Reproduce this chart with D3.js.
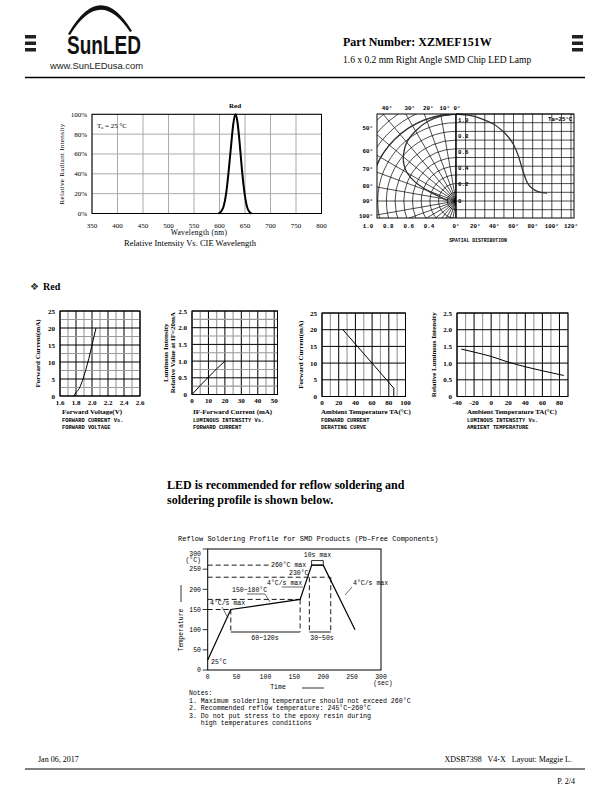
<!DOCTYPE html>
<html><head><meta charset="utf-8">
<script src="https://cdn.jsdelivr.net/npm/d3@7"></script>
<style>body{margin:0;background:#fff}svg{display:block}</style>
</head><body><svg id="c" width="612" height="792"></svg>
<script>
// ---------------- DATA ----------------
const specWavelength = [598, 603, 608, 613, 618, 623, 627, 631, 635, 639, 643, 647, 651, 655, 659, 663];
const specIntensity  = [0, 2, 7, 20, 43, 70, 90, 100, 93, 74, 50, 29, 14, 5, 1.5, 0];
const specXTicks = [350, 400, 450, 500, 550, 600, 650, 700, 750, 800];
const specYTicks = [0, 20, 40, 60, 80, 100];

const spatialAngle     = [0, 10, 20, 30, 40, 50, 55, 60, 65, 70, 75, 80, 85, 90, 95];
const spatialIntensity = [1.0, 0.99, 0.97, 0.93, 0.88, 0.79, 0.73, 0.65, 0.52, 0.34, 0.20, 0.14, 0.11, 0.095, 0.09];
const polarTopLabels  = [40, 30, 20, 10, 0];
const polarLeftLabels = [50, 60, 70, 80, 90, 100];
const polarRadLabels  = [1.0, 0.8, 0.6, 0.4];
const spatialYTicks   = [1.0, 0.8, 0.6, 0.4, 0.2, 0];
const spatialXTicks   = [0, 20, 40, 60, 80, 100, 120];

const vfVoltage = [1.77, 1.80, 1.84, 1.88, 1.92, 1.96, 2.00, 2.05];
const vfCurrent = [0, 1, 2.2, 4.5, 7.5, 11, 15, 20];
const vfXTicks = [1.6, 1.8, 2.0, 2.2, 2.4, 2.6];
const vfYTicks = [0, 5, 10, 15, 20, 25];

const ivCurrent   = [0, 5, 10, 15, 20];
const ivIntensity = [0, 0.27, 0.52, 0.77, 1.0];
const ivXTicks = [0, 10, 20, 30, 40, 50];
const ivYTicks = [0, 0.5, 1.0, 1.5, 2.0, 2.5];

const deratingTemp    = [25, 86, 86];
const deratingCurrent = [20, 2.5, 0];
const deratingXTicks = [0, 20, 40, 60, 80, 100];
const deratingYTicks = [0, 5, 10, 15, 20, 25];

const ltTemp      = [-35, -20, 0, 20, 40, 60, 85];
const ltIntensity = [1.42, 1.33, 1.20, 1.03, 0.89, 0.77, 0.63];
const ltXTicks = [-40, -20, 0, 20, 40, 60, 80];
const ltYTicks = [0, 0.5, 1.0, 1.5, 2.0, 2.5];

const reflowTime = [0, 40, 160, 180, 200, 255];
const reflowTemp = [25, 150, 175, 260, 260, 100];
const reflowXTicks = [0, 50, 100, 150, 200, 250, 300];
const reflowYTicks = [0, 50, 100, 150, 200, 250, 300];

const notes = [
  "1. Maximum soldering temperature should not exceed 260\u00b0C",
  "2. Recommended reflow temperature: 245\u00b0C~260\u00b0C",
  "3. Do not put stress to the epoxy resin during",
  "   high temperatures conditions"
];

// ---------------- HELPERS ----------------
const svg = d3.select('#c');
svg.append('rect').attr('width', 612).attr('height', 792).attr('fill', '#fff');
const defs = svg.append('defs');
const SERIF = 'Liberation Serif', MONO = 'Liberation Mono', SANS = 'Liberation Sans';

function txt(g, x, y, s, o = {}) {
  const t = g.append('text').attr('x', x).attr('y', y).text(s)
    .attr('font-family', o.ff || SERIF).attr('font-size', o.fs || 7)
    .attr('font-weight', o.fw || 'normal').attr('text-anchor', o.anchor || 'start')
    .attr('fill', o.fill || '#000');
  if (o.rotate) t.attr('transform', `rotate(-90,${x},${y})`);
  if (o.ls) t.attr('letter-spacing', o.ls);
  if (o.tl) t.attr('textLength', o.tl).attr('lengthAdjust', 'spacingAndGlyphs');
  return t;
}
function hline(g, x1, x2, y, o = {}) {
  return g.append('line').attr('x1', x1).attr('x2', x2).attr('y1', y).attr('y2', y)
    .attr('stroke', o.c || '#000').attr('stroke-width', o.w || 1).attr('stroke-dasharray', o.dash || null);
}
function vline(g, x, y1, y2, o = {}) {
  return g.append('line').attr('x1', x).attr('x2', x).attr('y1', y1).attr('y2', y2)
    .attr('stroke', o.c || '#000').attr('stroke-width', o.w || 1).attr('stroke-dasharray', o.dash || null);
}

// ---------------- HEADER ----------------
const hdr = svg.append('g');
[25, 572].forEach(bx => [0, 1, 2].forEach(i =>
  hdr.append('rect').attr('x', bx).attr('y', 35 + i * 6.5).attr('width', 11).attr('height', 3.5).attr('fill', '#222')));
hdr.append('path').attr('d', 'M68,34 Q100,-22 132,31 L130,32 Q100,-14 70,35 Z').attr('fill', '#111');
txt(hdr, 67, 54, 'SunLED', { ff: SANS, fs: 25, fw: 'bold', tl: 74, fill: '#111' });
txt(hdr, 50, 68.5, 'www.SunLEDusa.com', { ff: SANS, fs: 9.5, tl: 93, fill: '#222' });
txt(hdr, 343, 46, 'Part Number: XZMEF151W', { fs: 12, fw: 'bold' });
txt(hdr, 343, 63, '1.6 x 0.2 mm Right Angle SMD Chip LED Lamp', { fs: 9.5 });
hline(hdr, 25, 585, 77.5, { w: 1.5 });

// ---------------- SPECTRUM CHART ----------------
{
  const g = svg.append('g');
  const x = d3.scaleLinear([350, 800], [92, 321.5]);
  const y = d3.scaleLinear([0, 100], [213.5, 114.3]);
  specXTicks.forEach(v => vline(g, x(v), y(0), y(100), { c: '#aaa', w: 1 }));
  specYTicks.forEach(v => hline(g, x(350), x(800), y(v), { c: '#aaa', w: 1 }));
  g.append('rect').attr('x', x(350)).attr('y', y(100)).attr('width', x(800) - x(350)).attr('height', y(0) - y(100))
    .attr('fill', 'none').attr('stroke', '#000').attr('stroke-width', 1);
  const pts = specWavelength.map((w, i) => [w, specIntensity[i]]);
  g.append('path').datum(pts).attr('fill', 'none').attr('stroke', '#000').attr('stroke-width', 2)
    .attr('d', d3.line().x(d => x(d[0])).y(d => y(d[1])).curve(d3.curveMonotoneX));
  specXTicks.forEach(v => txt(g, x(v), 227.5, String(v), { anchor: 'middle', fs: 7 }));
  specYTicks.forEach(v => txt(g, 87, y(v) + 2.5, v + '%', { anchor: 'end', fs: 7 }));
  txt(g, 235, 108, 'Red', { anchor: 'middle', fs: 7, fw: 'bold' });
  const ta = txt(g, 97, 127.5, '', { fs: 7 });
  ta.append('tspan').text('T');
  ta.append('tspan').attr('font-size', 4.5).attr('dy', 1.5).text('a');
  ta.append('tspan').attr('dy', -1.5).text(' = 25 \u00b0C');
  txt(g, 63.5, 164, 'Relative Radiant Intensity', { anchor: 'middle', fs: 7, rotate: true, ls: 0.3 });
  txt(g, 199, 235, 'Wavelength (nm)', { anchor: 'middle', fs: 7.5, ls: 0.3 });
  txt(g, 190, 245.5, 'Relative Intensity Vs. CIE Wavelength', { anchor: 'middle', fs: 8.5 });
}

// ---------------- SPATIAL DISTRIBUTION ----------------
{
  const g = svg.append('g');
  const cx = 456, cy = 201, R = 87, L = 377, T = 114, Rr = 574, B = 218;
  const rs = d3.scaleLinear([0, 1], [0, R]);
  defs.append('clipPath').attr('id', 'pclip').append('rect').attr('x', L).attr('y', T).attr('width', cx - L).attr('height', B - T);
  const pg = g.append('g').attr('clip-path', 'url(#pclip)');
  const rad = a => a * Math.PI / 180;
  d3.range(0.1, 1.5, 0.1).forEach(r => pg.append('circle').attr('cx', cx).attr('cy', cy).attr('r', rs(r))
    .attr('fill', 'none').attr('stroke', '#000').attr('stroke-width', 0.7));
  d3.range(0, 181, 10).forEach(a => pg.append('line').attr('x1', cx).attr('y1', cy)
    .attr('x2', cx - rs(1.6) * Math.sin(rad(a))).attr('y2', cy - rs(1.6) * Math.cos(rad(a)))
    .attr('stroke', '#000').attr('stroke-width', 0.7));
  pg.append('circle').attr('cx', cx).attr('cy', cy).attr('r', rs(1)).attr('fill', 'none').attr('stroke', '#333').attr('stroke-width', 1.3);
  const polarPts = spatialAngle.map((a, i) => [a, spatialIntensity[i]]);
  pg.append('path').datum(polarPts).attr('transform', `translate(${cx},${cy})`)
    .attr('fill', 'none').attr('stroke', '#333').attr('stroke-width', 1.3)
    .attr('d', d3.lineRadial().angle(d => -rad(d[0])).radius(d => rs(d[1])).curve(d3.curveCatmullRom));
  // cartesian half
  const xs = d3.scaleLinear([0, 120], [cx, 571]);
  const ys = d3.scaleLinear([0, 1], [cy, T]);
  d3.range(0, 121, 10).forEach(a => vline(g, xs(a), T, B, { w: 0.7 }));
  d3.range(-0.2, 1.01, 0.1).forEach(v => { if (ys(v) <= B) hline(g, cx, Rr, ys(v), { w: 0.7 }); });
  g.append('path').datum(polarPts).attr('fill', 'none').attr('stroke', '#333').attr('stroke-width', 1.3)
    .attr('d', d3.line().x(d => xs(d[0])).y(d => ys(d[1])).curve(d3.curveCatmullRom));
  g.append('rect').attr('x', L).attr('y', T).attr('width', Rr - L).attr('height', B - T)
    .attr('fill', 'none').attr('stroke', '#000').attr('stroke-width', 1);
  vline(g, cx, T, B, { w: 1.2 });
  const lf = { ff: MONO, fs: 5.8, fw: 'bold' };
  const ly = d3.scaleLinear([0, 1], [202.5, 121.5]);
  spatialYTicks.forEach(v => txt(g, 458, ly(v), v === 0 ? '0' : v.toFixed(1), lf));
  spatialXTicks.forEach(v => txt(g, xs(v), 228, v + '\u00b0', { ...lf, anchor: 'middle' }));
  const lrad = d3.scaleLinear([0.4, 1.0], [429, 368]);
  polarRadLabels.forEach(v => txt(g, lrad(v), 228, v.toFixed(1), { ...lf, anchor: 'middle' }));
  polarTopLabels.forEach(a => txt(g, cx - R * Math.tan(rad(a)) + (a ? 4 : 1), 110, a + '\u00b0', { ...lf, anchor: 'middle' }));
  polarLeftLabels.forEach(a => txt(g, 373, cy - R * Math.cos(rad(a)) / Math.sin(rad(a)) + 2, a + '\u00b0', { ...lf, anchor: 'end' }));
  txt(g, 548, 121, 'Ta=25\u00b0C', { ff: MONO, fs: 5.8, fw: 'bold' });
  txt(g, 478, 242, 'SPATIAL DISTRIBUTION', { ff: MONO, fs: 4.8, fw: 'bold', anchor: 'middle' });
}

// ---------------- SECTION HEADING ----------------
txt(svg, 30, 290, '\u2756', { ff: 'DejaVu Sans', fs: 10, fill: '#333' });
txt(svg, 43, 290, 'Red', { fs: 10, fw: 'bold' });

// ---------------- SMALL CHARTS ----------------
function gridChart(o) {
  const g = svg.append('g');
  const x = d3.scaleLinear(o.xDomain, o.xRange);
  const y = d3.scaleLinear(o.yDomain, o.yRange);
  const isTick = (arr, v) => arr.some(t => Math.abs(t - v) < 1e-6);
  d3.range(o.xDomain[0], o.xDomain[1] + 1e-6, o.xStep).forEach(v =>
    vline(g, x(v), y(o.yDomain[1]), y(o.yDomain[0]), { c: isTick(o.xTicks, v) ? '#000' : '#999', w: isTick(o.xTicks, v) ? 1 : 1.1 }));
  d3.range(o.yDomain[0], o.yDomain[1] + 1e-6, o.yStep).forEach(v =>
    hline(g, x(o.xDomain[0]), x(o.xDomain[1]), y(v), { c: isTick(o.yTicks, v) ? '#000' : '#999', w: isTick(o.yTicks, v) ? 1 : 1.1 }));
  g.append('rect').attr('x', o.xRange[0]).attr('y', o.yRange[1]).attr('width', o.xRange[1] - o.xRange[0])
    .attr('height', o.yRange[0] - o.yRange[1]).attr('fill', 'none').attr('stroke', '#000').attr('stroke-width', 1);
  const pts = o.xs.map((v, i) => [v, o.ys[i]]);
  g.append('path').datum(pts).attr('fill', 'none').attr('stroke', '#000').attr('stroke-width', 1)
    .attr('d', d3.line().x(d => x(d[0])).y(d => y(d[1])).curve(o.curve || d3.curveLinear));
  const tf = { fs: 7, fw: 'bold' };
  o.xTicks.forEach(v => txt(g, x(v), o.yRange[0] + 8.5, o.xFmt(v), { ...tf, anchor: 'middle' }));
  o.yTicks.forEach(v => txt(g, o.xRange[0] - 5, y(v) + 2.5, o.yFmt(v), { ...tf, anchor: 'end' }));
  o.yTitle.forEach((s, i) => txt(g, o.yTitleX + i * 7.5, (o.yRange[0] + o.yRange[1]) / 2 + (o.yTitleDy || 0), s,
    { fs: 7, fw: 'bold', anchor: 'middle', rotate: true }));
  txt(g, o.capX, 413.5, o.xTitle, { fs: 7, fw: 'bold' });
  o.caps.forEach((s, i) => txt(g, o.capX, 421.5 + i * 7.5, s, { ff: MONO, fs: 5.4, fw: 'bold' }));
}
const fmt1 = v => (v === 0 ? '0' : v.toFixed(1));
gridChart({
  xDomain: [1.6, 2.6], xRange: [60, 140], yDomain: [0, 25], yRange: [396, 311],
  xStep: 0.1, yStep: 2.5, xTicks: vfXTicks, yTicks: vfYTicks, xs: vfVoltage, ys: vfCurrent,
  curve: d3.curveMonotoneX, xFmt: v => v.toFixed(1), yFmt: v => String(v),
  yTitle: ['Forward Current(mA)'], yTitleX: 40, xTitle: 'Forward Voltage(V)', capX: 62,
  caps: ['FORWARD CURRENT Vs.', 'FORWARD VOLTAGE']
});
gridChart({
  xDomain: [0, 52], xRange: [192, 277.5], yDomain: [0, 2.5], yRange: [394.5, 311],
  xStep: 5, yStep: 0.25, xTicks: ivXTicks, yTicks: ivYTicks, xs: ivCurrent, ys: ivIntensity,
  curve: d3.curveMonotoneX, xFmt: v => String(v), yFmt: fmt1,
  yTitle: ['Luminous Intensity', 'Relative Value at IF=20mA'], yTitleX: 167.5, yTitleDy: 0,
  xTitle: 'IF-Forward Current (mA)', capX: 193,
  caps: ['LUMINOUS INTENSITY Vs.', 'FORWARD CURRENT']
});
gridChart({
  xDomain: [0, 100], xRange: [322, 405.5], yDomain: [0, 25], yRange: [396.5, 313],
  xStep: 10, yStep: 5, xTicks: deratingXTicks, yTicks: deratingYTicks, xs: deratingTemp, ys: deratingCurrent,
  xFmt: v => String(v), yFmt: v => String(v),
  yTitle: ['Forward Current(mA)'], yTitleX: 303, xTitle: 'Ambient Temperature TA(\u00b0C)', capX: 321,
  caps: ['FORWARD CURRENT', 'DERATING CURVE']
});
gridChart({
  xDomain: [-40, 90], xRange: [457, 568], yDomain: [0, 2.5], yRange: [396.5, 313],
  xStep: 10, yStep: 0.5, xTicks: ltXTicks, yTicks: ltYTicks, xs: ltTemp, ys: ltIntensity,
  curve: d3.curveMonotoneX, xFmt: v => String(v), yFmt: fmt1,
  yTitle: ['Relative Luminous Intensity'], yTitleX: 436, xTitle: 'Ambient Temperature TA(\u00b0C)', capX: 467,
  caps: ['LUMINOUS INTENSITY Vs.', 'AMBIENT TEMPERATURE']
});

// ---------------- REFLOW TEXT ----------------
txt(svg, 167, 489, 'LED is recommended for reflow soldering and', { fs: 12, fw: 'bold' });
txt(svg, 167, 504, 'soldering profile is shown below.', { fs: 12, fw: 'bold' });

// ---------------- REFLOW CHART ----------------
{
  const g = svg.append('g');
  const x = d3.scaleLinear([0, 300], [207.7, 381]);
  const y = d3.scaleLinear([0, 300], [670, 549]);
  const f = { ff: MONO, fs: 6.5 };
  txt(g, 178, 541, 'Reflow Soldering Profile for SMD Products (Pb-Free Components)', { ff: MONO, fs: 7 });
  g.append('rect').attr('x', x(0)).attr('y', y(300)).attr('width', x(300) - x(0)).attr('height', y(0) - y(300))
    .attr('fill', 'none').attr('stroke', '#000').attr('stroke-width', 1);
  reflowYTicks.forEach(v => {
    hline(g, x(0) - 5, x(0), y(v), { w: 0.8 });
    if (v < 300) txt(g, 201, y(v) + 2.3, String(v), { ...f, anchor: 'end' });
  });
  txt(g, 201, 555.5, '300', { ...f, anchor: 'end' });
  txt(g, 201, 561.5, '(\u00b0C)', { ...f, anchor: 'end' });
  reflowXTicks.forEach(v => txt(g, x(v), 679, String(v), { ...f, anchor: 'middle' }));
  txt(g, 383, 684.5, '(sec)', { ...f, anchor: 'middle' });
  // dashed guides
  const D = '5,3';
  hline(g, x(0), x(180) - 42, y(260), { dash: D, w: 0.9 });
  hline(g, x(0), x(200) + 7, y(230), { dash: D, w: 0.9 });
  hline(g, x(0), x(160), y(175), { dash: D, w: 0.9 });
  hline(g, x(0), x(40), y(150), { dash: D, w: 0.9 });
  vline(g, x(40), y(150), 632, { dash: D, w: 0.9 });
  vline(g, x(160), y(175), 632, { dash: D, w: 0.9 });
  vline(g, x(176), y(230), 632, { dash: D, w: 0.9 });
  vline(g, x(213), y(230), 632, { dash: D, w: 0.9 });
  hline(g, x(40), x(160), 632, { w: 0.9 });
  hline(g, x(176), x(213), 632, { w: 0.9 });
  // profile
  const pts = reflowTime.map((t, i) => [t, reflowTemp[i]]);
  g.append('path').datum(pts).attr('fill', 'none').attr('stroke', '#000').attr('stroke-width', 1.2)
    .attr('d', d3.line().x(d => x(d[0])).y(d => y(d[1])));
  g.append('rect').attr('x', x(180)).attr('y', y(260) - 4.5).attr('width', x(200) - x(180)).attr('height', 4.5)
    .attr('fill', 'none').attr('stroke', '#000').attr('stroke-width', 0.8);
  // annotations
  txt(g, x(190), 557, '10s max', { ...f, anchor: 'middle' });
  txt(g, 271, 567, '260\u00b0C max', f);
  txt(g, 289, 574.5, '230\u00b0C', f);
  txt(g, 267, 585, '4\u00b0C/s max', f);
  g.append('line').attr('x1', 282).attr('y1', 587).attr('x2', 303).attr('y2', 587).attr('stroke', '#000').attr('stroke-width', 0.6);
  txt(g, 232, 592, '150~180\u00b0C', f);
  g.append('line').attr('x1', 247).attr('y1', 594).attr('x2', 265).attr('y2', 594).attr('stroke', '#000').attr('stroke-width', 0.6);
  g.append('line').attr('x1', 265).attr('y1', 594).attr('x2', 270).attr('y2', 602).attr('stroke', '#000').attr('stroke-width', 0.6);
  txt(g, 210, 605, '4\u00b0C/s max', f);
  g.append('line').attr('x1', 222).attr('y1', 607).attr('x2', 228).attr('y2', 618).attr('stroke', '#000').attr('stroke-width', 0.6);
  txt(g, 353, 585, '4\u00b0C/s max', f);
  g.append('line').attr('x1', 352).attr('y1', 587).attr('x2', 345).attr('y2', 595).attr('stroke', '#000').attr('stroke-width', 0.6);
  txt(g, 265, 640, '60~120s', { ...f, anchor: 'middle' });
  txt(g, 322, 640, '30~50s', { ...f, anchor: 'middle' });
  txt(g, 211, 664, '25\u00b0C', f);
  txt(g, 183, 630, 'Temperature', { ...f, anchor: 'middle', rotate: true });
  vline(g, 181, 585, 602, { w: 0.8 });
  txt(g, 278, 689, 'Time', { ...f, anchor: 'middle' });
  hline(g, 302, 324, 688, { w: 0.8 });
  txt(g, 189, 695, 'Notes:', f);
  notes.forEach((s, i) => txt(g, 189, 703 + i * 7.3, s, { ...f, fs: 6.6 }).attr('xml:space', 'preserve').style('white-space', 'pre'));
}

// ---------------- FOOTER ----------------
txt(svg, 38, 762, 'Jan 06, 2017', { fs: 8 });
txt(svg, 572, 762, 'XDSB7398   V4-X   Layout: Maggie L.', { fs: 8, anchor: 'end' }).style('white-space', 'pre');
hline(svg, 25, 585, 769, { w: 1.2 });
txt(svg, 575, 784, 'P. 2/4', { fs: 8, anchor: 'end' });
</script></body></html>
